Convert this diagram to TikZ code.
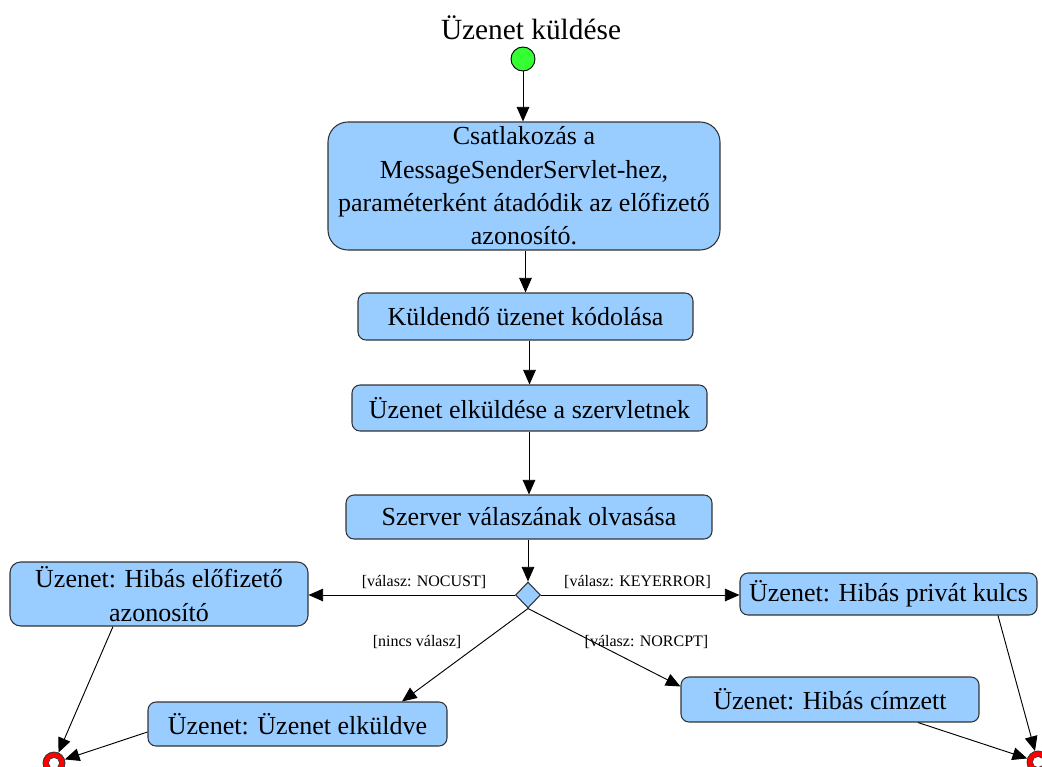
\documentclass[tikz,border=0pt]{standalone}
\usepackage{fontspec}
\setmainfont{Liberation Serif}
\usetikzlibrary{arrows.meta,shapes.geometric,calc}
\definecolor{actfill}{HTML}{99CCFF}
\definecolor{actline}{HTML}{333333}
\definecolor{startgreen}{HTML}{33FF33}
\tikzset{
  act/.style={draw=actline, fill=actfill, line width=0.8pt, rounded corners=6pt,
    align=center, inner sep=0pt, font=\fontsize{19.5}{25}\selectfont},
  flow/.style={draw=black, line width=0.7pt, -{Triangle[length=11pt,width=9.5pt]}},
  guard/.style={font=\fontsize{12}{14}\selectfont, inner sep=0pt},
  initial/.style={circle, draw=black, fill=startgreen, minimum size=24*0.75pt,
    inner sep=0pt, line width=0.7pt},
  final/.style={circle, draw=actline, fill=red, minimum size=22*0.75pt,
    inner sep=0pt, line width=0.6pt,
    path picture={\filldraw[white, draw=actline, line width=0.5pt]
      (path picture bounding box.center) circle (4.2pt);}},
  choice/.style={diamond, draw=actline, fill=actfill, line width=0.8pt,
    minimum width=25*0.75pt, minimum height=26*0.75pt, inner sep=0pt},
}
\begin{document}
\begin{tikzpicture}[x=0.75pt, y=-0.75pt]
\useasboundingbox (0,0) rectangle (1042,767);
\clip (0,0) rectangle (1042,767);

% title and start point
\node[font=\fontsize{22}{26}\selectfont, inner sep=0pt] (title) at (531,28) {Üzenet küldése};
\node[initial] (start) at (523,59) {};

% main sequence of activities
\node[act, rounded corners=15pt, minimum width=392*0.75pt, minimum height=128*0.75pt] (connect) at (524,186)
  {Csatlakozás a\\MessageSenderServlet-hez,\\paraméterként átadódik az előfizető\\azonosító.};
\node[act, minimum width=335*0.75pt, minimum height=47*0.75pt] (encode) at (525.5,316.5) {Küldendő üzenet kódolása};
\node[act, minimum width=355*0.75pt, minimum height=46*0.75pt] (send) at (529.5,408) {Üzenet elküldése a szervletnek};
\node[act, minimum width=366*0.75pt, minimum height=44*0.75pt] (read) at (529,517) {Szerver válaszának olvasása};

% decision on the server answer
\node[choice] (dec) at (528,595) {};

% outcome messages
\node[act, rounded corners=8pt, minimum width=298*0.75pt, minimum height=64*0.75pt] (nocust) at (159,594)
  {Üzenet: Hibás előfizető\\azonosító};
\node[act, minimum width=297*0.75pt, minimum height=42*0.75pt] (keyerr) at (888.5,594) {Üzenet: Hibás privát kulcs};
\node[act, minimum width=299*0.75pt, minimum height=44*0.75pt] (sent) at (297.5,724) {Üzenet: Üzenet elküldve};
\node[act, minimum width=298*0.75pt, minimum height=45*0.75pt] (norcpt) at (830,699.5) {Üzenet: Hibás címzett};

% end points
\node[final] (endL) at (54,763) {};
\node[final] (endR) at (1038,762) {};

% flow
\draw[flow] (start) -- (start |- connect.north);
\draw[flow] (encode.north |- connect.south) -- (encode.north);
\draw[flow] (send.north |- encode.south) -- (send.north);
\draw[flow] (read.north |- send.south) -- (read.north);
\draw[flow] (dec.north |- read.south) -- (dec.north);

\draw[flow] (dec.west) -- (dec.west -| nocust.east);
\draw[flow] (dec.east) -- (dec.east -| keyerr.west);
\draw[flow] (dec.south) -- ($(sent.north)+(104.5,0)$);
\draw[flow] (dec.south) -- ($(norcpt.north west)+(0,10)$);

\draw[flow] ($(nocust.south)+(-46,0)$) -- (endL);
\draw[flow] ($(sent.west)+(0,8)$) -- (endL);
\draw[flow] ($(keyerr.south)+(109.5,0)$) -- (endR);
\draw[flow] ($(norcpt.south)+(88,0)$) -- (endR);

% guards
\node[guard] (gnocust) at (424,582) {[válasz: NOCUST]};
\node[guard] (gkey) at (637.5,582) {[válasz: KEYERROR]};
\node[guard] (gnone) at (417,642) {[nincs válasz]};
\node[guard] (grcpt) at (646.5,642) {[válasz: NORCPT]};
\end{tikzpicture}
\end{document}
